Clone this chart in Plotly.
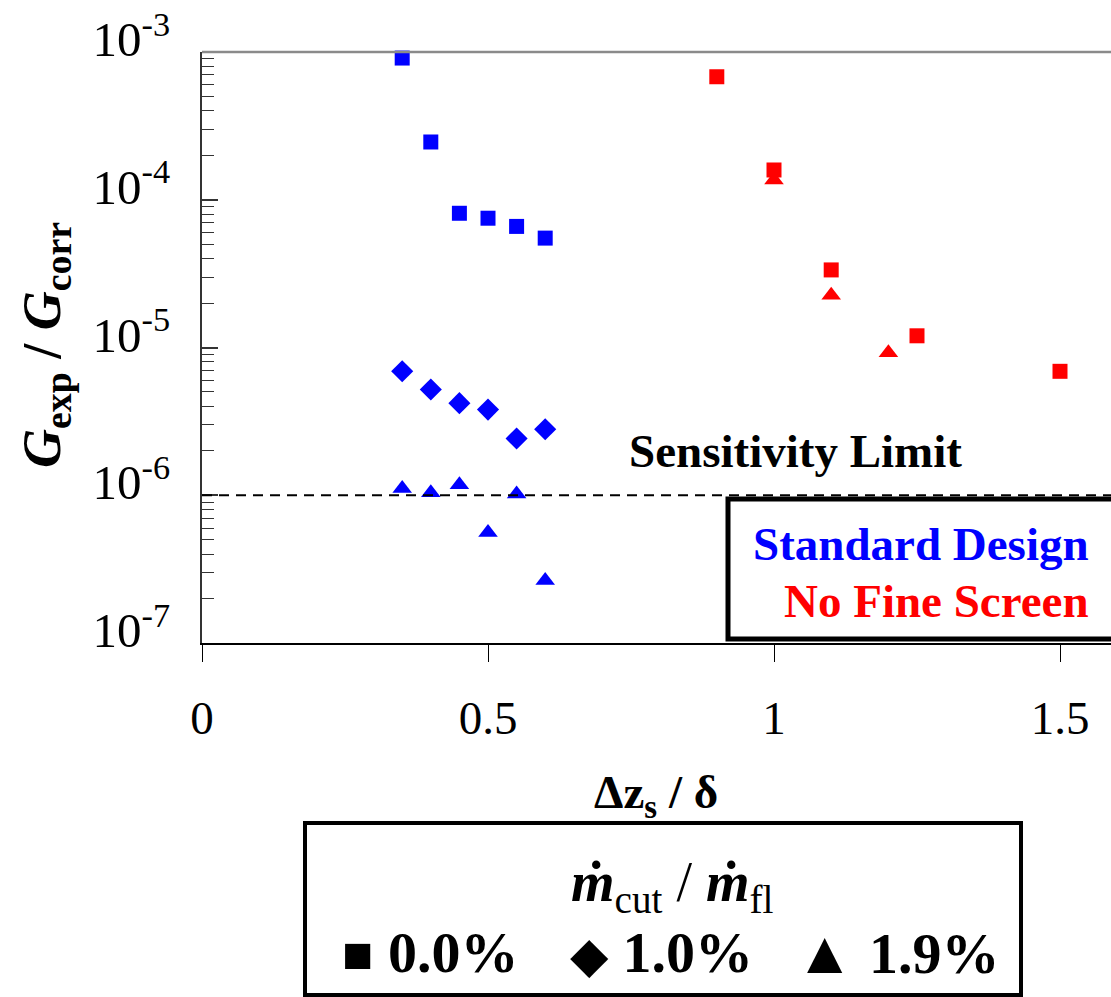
import plotly.graph_objects as go

# ---------------- data ----------------
std_x = [0.35, 0.40, 0.45, 0.50, 0.55, 0.60]
std_sq = [9.1e-4, 2.46e-4, 8.1e-5, 7.5e-5, 6.6e-5, 5.5e-5]
std_dia = [6.9e-6, 5.2e-6, 4.2e-6, 3.8e-6, 2.42e-6, 2.8e-6]
std_tri = [1.11e-6, 1.04e-6, 1.18e-6, 5.6e-7, 1.02e-6, 2.65e-7]

nfs_sq_x = [0.90, 1.00, 1.10, 1.25, 1.50]
nfs_sq = [6.8e-4, 1.59e-4, 3.35e-5, 1.2e-5, 6.9e-6]
nfs_tri_x = [1.00, 1.10, 1.20]
nfs_tri = [1.36e-4, 2.26e-5, 9.2e-6]

sens_limit = 1e-6
x_ticks = [0, 0.5, 1, 1.5]
x_ticktext = ["0", "0.5", "1", "1.5"]
y_ticks = [1e-7, 1e-6, 1e-5, 1e-4, 1e-3]
y_ticktext = ["10<sup>-7</sup>", "10<sup>-6</sup>", "10<sup>-5</sup>", "10<sup>-4</sup>", "10<sup>-3</sup>"]
legend_symbols = ["■", "◆", "▲"]
legend_labels = ["0.0%", "1.0%", "1.9%"]

BLUE = "#0000FF"
RED = "#FF0000"
FONT = "Liberation Serif"

# ---------------- layout geometry (pixels) ----------------
W, H = 1111, 997
L, R, T, B = 202, 0, 52, 354
PW, PH = W - L - R, H - T - B


def px2x(px):
    return (px - L) / PW


def py2y(py):
    return (H - B - py) / PH


fig = go.Figure()

fig.add_trace(go.Scatter(x=std_x, y=std_sq, mode="markers",
                         marker=dict(symbol="square", size=15, color=BLUE),
                         showlegend=False, cliponaxis=False))
fig.add_trace(go.Scatter(x=std_x, y=std_dia, mode="markers",
                         marker=dict(symbol="diamond", size=17, color=BLUE),
                         showlegend=False, cliponaxis=False))
fig.add_trace(go.Scatter(x=std_x, y=std_tri, mode="markers",
                         marker=dict(symbol="triangle-up", size=17, color=BLUE),
                         showlegend=False, cliponaxis=False))
fig.add_trace(go.Scatter(x=nfs_sq_x, y=nfs_sq, mode="markers",
                         marker=dict(symbol="square", size=15, color=RED),
                         showlegend=False, cliponaxis=False))
fig.add_trace(go.Scatter(x=nfs_tri_x, y=nfs_tri, mode="markers",
                         marker=dict(symbol="triangle-up", size=17, color=RED),
                         showlegend=False, cliponaxis=False))

shapes = [
    # top frame line
    dict(type="line", xref="paper", yref="paper", x0=0, x1=1, y0=1, y1=1,
         line=dict(color="#8a8a8a", width=2.5)),
    # sensitivity limit
    dict(type="line", xref="paper", yref="y", x0=0, x1=1, y0=sens_limit, y1=sens_limit,
         line=dict(color="black", width=2, dash="10px,7px")),
    # legend box: Standard Design / No Fine Screen
    dict(type="rect", xref="paper", yref="paper", x0=px2x(728), x1=px2x(1125),
         y0=py2y(639), y1=py2y(499), line=dict(color="black", width=5),
         fillcolor="white", layer="above"),
    # bottom legend box
    dict(type="rect", xref="paper", yref="paper", x0=px2x(305), x1=px2x(1021),
         y0=py2y(995), y1=py2y(823), line=dict(color="black", width=4),
         fillcolor="white", layer="above"),
]

annotations = [
    dict(text="<b>Sensitivity Limit</b>", x=px2x(795), y=py2y(451),
         font=dict(family=FONT, size=47, color="black")),
    dict(text="<b>Standard Design</b>", x=px2x(1091), y=py2y(544), xanchor="right",
         font=dict(family=FONT, size=47, color=BLUE)),
    dict(text="<b>No Fine Screen</b>", x=px2x(1091), y=py2y(601), xanchor="right",
         font=dict(family=FONT, size=47, color=RED)),
    dict(text="<b><i>G</i><sub>exp</sub> / <i>G</i><sub>corr</sub></b>",
         x=px2x(45), y=py2y(345), textangle=-90,
         font=dict(family=FONT, size=54, color="black")),
    dict(text="<b>Δz<sub>s</sub> / δ</b>", x=px2x(656), y=py2y(795),
         font=dict(family=FONT, size=47, color="black")),
    dict(text="<b><i>ṁ</i></b><sub>cut</sub> / <b><i>ṁ</i></b><sub>fl</sub>",
         x=px2x(672), y=py2y(886),
         font=dict(family=FONT, size=56, color="black")),
]
sym_sizes = [52, 50, 60]
for sym, lab, cx, ss in zip(legend_symbols, legend_labels, [430, 661, 897], sym_sizes):
    txt = ('<span style="font-size:%dpx">%s</span> <b>%s</b>' % (ss, sym, lab))
    annotations.append(dict(text=txt, x=px2x(cx), y=py2y(953),
                            font=dict(family=FONT, size=58, color="black")))
for a in annotations:
    a.update(xref="paper", yref="paper", showarrow=False)
    a.setdefault("xanchor", "center")
    a.setdefault("yanchor", "middle")

minor_vals = [m * 10.0 ** e for e in range(-7, -3) for m in range(2, 10)]

fig.update_layout(
    width=W, height=H,
    margin=dict(l=L, r=R, t=T, b=B, pad=0),
    paper_bgcolor="white", plot_bgcolor="white",
    showlegend=False,
    shapes=shapes,
    annotations=annotations,
    xaxis=dict(
        range=[0, PW / 572.0], showgrid=False, zeroline=False,
        showline=True, linecolor="black", linewidth=1.5,
        ticks="outside", ticklen=17, tickwidth=1, tickcolor="black",
        tickvals=x_ticks, ticktext=x_ticktext,
        tickfont=dict(family=FONT, size=47, color="black"),
        ticklabelstandoff=16,
    ),
    yaxis=dict(
        type="log", range=[-7, -3], showgrid=False, zeroline=False,
        showline=True, linecolor="#333333", linewidth=2,
        ticks="inside", ticklen=16, tickwidth=1.5, tickcolor="#333333",
        tickvals=y_ticks, ticktext=y_ticktext,
        tickfont=dict(family=FONT, size=49, color="black"),
        ticklabelstandoff=20, ticklabelshift=-13,
        minor=dict(ticks="inside", ticklen=12, tickwidth=1.2, tickcolor="#333333",
                   tickvals=minor_vals, showgrid=False),
    ),
)

fig.write_html("out.html")
